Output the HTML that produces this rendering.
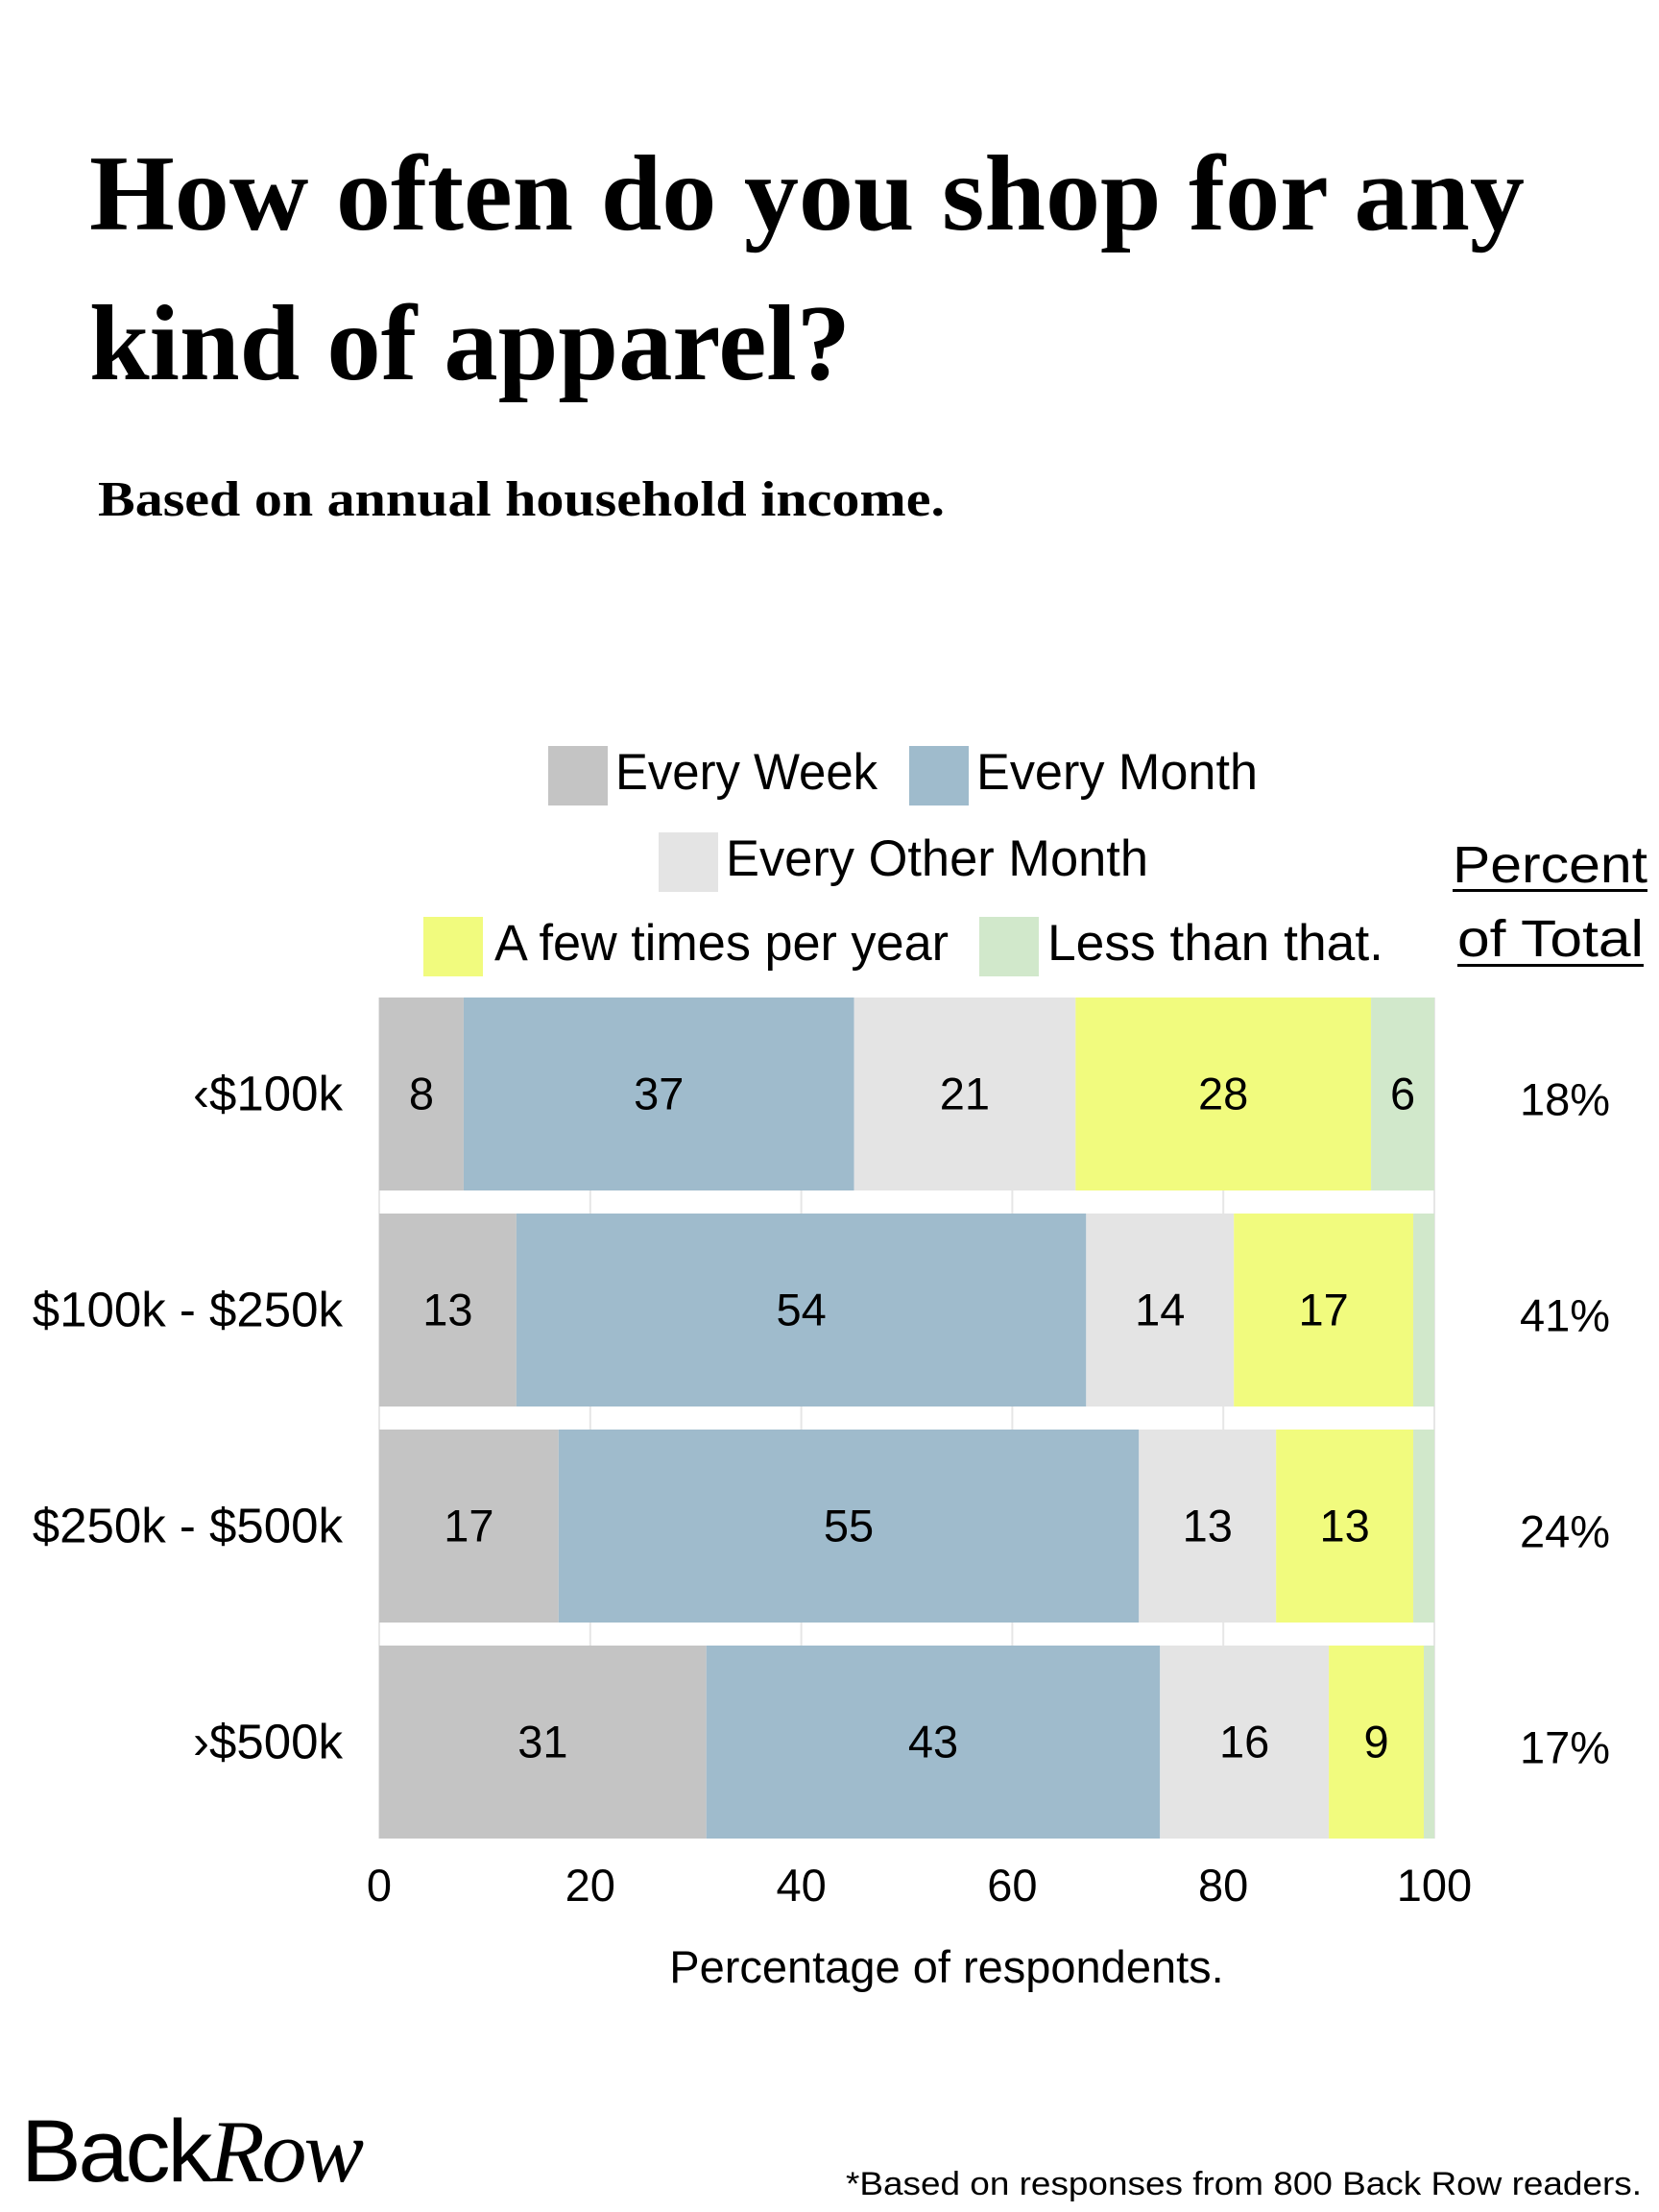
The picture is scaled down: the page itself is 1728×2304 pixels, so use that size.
<!DOCTYPE html>
<html><head><meta charset="utf-8"><style>
html,body{margin:0;padding:0;background:#fff;width:1728px;height:2304px;overflow:hidden}
svg{display:block}
.s{font-family:"Liberation Sans",sans-serif}
.t{font-family:"Liberation Serif",serif;font-weight:bold}
</style></head><body>
<svg id="chart" width="1728" height="2304" viewBox="0 0 1728 2304">
<text class="t" x="93" y="239" font-size="112" textLength="1495" lengthAdjust="spacingAndGlyphs">How often do you shop for any</text>
<text class="t" x="93" y="395" font-size="112" textLength="793" lengthAdjust="spacingAndGlyphs">kind of apparel?</text>
<text class="t" x="102" y="537" font-size="52" textLength="882" lengthAdjust="spacingAndGlyphs">Based on annual household income.</text>
<g id="legend"></g>
<g>
<text class="s" x="1513" y="919" font-size="54" textLength="203" lengthAdjust="spacingAndGlyphs">Percent</text>
<rect x="1513" y="926" width="203" height="3" fill="#000"/>
<text class="s" x="1518" y="996" font-size="54" textLength="194" lengthAdjust="spacingAndGlyphs">of Total</text>
<rect x="1518" y="1004" width="194" height="3" fill="#000"/>
</g>
<g id="grid"></g>
<g id="bars"></g>
<g id="axis"></g>
<text class="s" x="986" y="2065" font-size="47" text-anchor="middle">Percentage of respondents.</text>
<g>
<text x="22" y="2272" font-size="92" font-family="Liberation Sans,sans-serif" letter-spacing="-3" textLength="354" lengthAdjust="spacingAndGlyphs">Back<tspan font-family="Liberation Serif,serif" font-style="italic">Row</tspan></text>
</g>
<text class="s" x="1710" y="2286" font-size="34" text-anchor="end" textLength="829" lengthAdjust="spacingAndGlyphs">*Based on responses from  800 Back Row readers.</text>
</svg>
<script>
const categories = ["‹$100k", "$100k - $250k", "$250k - $500k", "›$500k"];
const seriesNames = ["Every Week", "Every Month", "Every Other Month", "A few times per year", "Less than that."];
const everyWeek = [8, 13, 17, 31];
const everyMonth = [37, 54, 55, 43];
const everyOtherMonth = [21, 14, 13, 16];
const fewTimesYear = [28, 17, 13, 9];
const lessThanThat = [6, 2, 2, 1];
const percentOfTotal = ["18%", "41%", "24%", "17%"];
const xTicks = [0, 20, 40, 60, 80, 100];
const colors = ["#c4c4c4", "#9fbbcc", "#e4e4e4", "#f1fb7e", "#d1e8cb"];

const NS = "http://www.w3.org/2000/svg";
const X0 = 395, X1 = 1494, Y0 = 1039, BAND = 225, BH = 201;
const xs = v => X0 + (X1 - X0) * v / 100;
const yb = i => Y0 + i * BAND;
function mk(tag, attrs, parent, txt) {
  const e = document.createElementNS(NS, tag);
  for (const k in attrs) e.setAttribute(k, attrs[k]);
  if (txt !== undefined) e.textContent = txt;
  parent.appendChild(e);
  return e;
}
const grid = document.getElementById('grid');
xTicks.forEach(t => {
  const l = mk('line', {x1: xs(t), x2: xs(t), y1: Y0, y2: yb(3) + BH, stroke: '#e6e6e6', 'stroke-width': 2}, grid);
  
  
});
const bars = document.getElementById('bars');
const series = [everyWeek, everyMonth, everyOtherMonth, fewTimesYear, lessThanThat];
categories.forEach((c, i) => {
  const y = yb(i);
  const lab = mk('text', {x: 357, y: y + BH / 2 + 17, 'font-size': 51, 'text-anchor': 'end', class: 's'}, bars, c);
  
  
  let cum = 0;
  series.forEach((s, j) => {
    const v = s[i];
    const r = mk('rect', {x: xs(cum), y: y, width: xs(cum + v) - xs(cum), height: BH, fill: colors[j]}, bars);
    
    
    if (v >= 5) {
      const tx = mk('text', {x: (xs(cum) + xs(cum + v)) / 2, y: y + BH / 2 + 16, 'font-size': 47, 'text-anchor': 'middle', class: 's'}, bars, v);
      
      
    }
    cum += v;
  });
  const p = mk('text', {x: 1630, y: y + BH / 2 + 22, 'font-size': 47, 'text-anchor': 'middle', class: 's'}, bars, percentOfTotal[i]);
  
  
});
const axis = document.getElementById('axis');
xTicks.forEach(t => {
  const tl = mk('text', {x: xs(t), y: 1980, 'font-size': 47, 'text-anchor': 'middle', class: 's'}, axis, t);
  
  
});
const legend = document.getElementById('legend');
const legPos = [[571, 777, 641, 273], [947, 777, 1017, 293], [686, 867, 756, 440], [441, 955, 515, 473], [1020, 955, 1091, 350]];
seriesNames.forEach((n, j) => {
  const [sx, sy, tx, tw] = legPos[j];
  const g = mk('g', {}, legend);
  
  
  mk('rect', {x: sx, y: sy, width: 62, height: 62, fill: colors[j]}, g);
  mk('text', {x: tx, y: sy + 45, 'font-size': 53, class: 's', textLength: tw, lengthAdjust: 'spacingAndGlyphs'}, g, n);
});
</script>
</body></html>
